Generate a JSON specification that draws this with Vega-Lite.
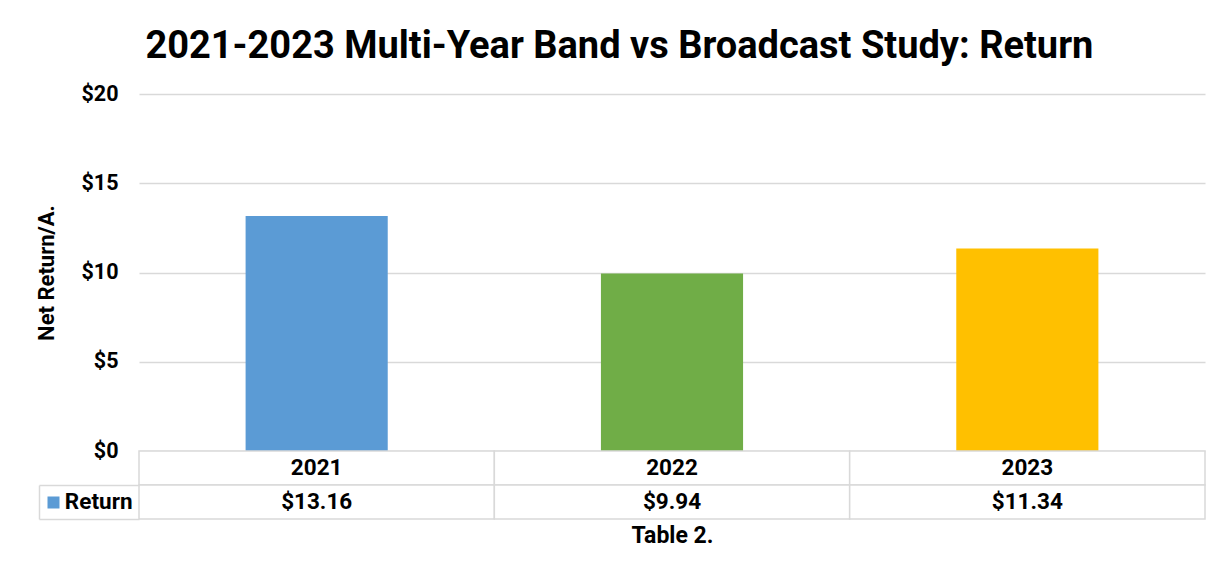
{
  "$schema": "https://vega.github.io/schema/vega-lite/v6.json",
  "background": "white",
  "padding": {"left": 33, "top": 28, "right": 18, "bottom": 10},
  "datasets": {
    "returns": [
      {"year": "2021", "ret": 13.16},
      {"year": "2022", "ret": 9.94},
      {"year": "2023", "ret": 11.34}
    ]
  },
  "data": {"name": "returns"},
  "title": {
    "text": "2021-2023 Multi-Year Band vs Broadcast Study: Return",
    "font": "Roboto",
    "fontSize": 38,
    "fontWeight": "bold",
    "color": "#000000",
    "anchor": "middle",
    "offset": 17
  },
  "bounds": "flush",
  "spacing": 0,
  "resolve": {"scale": {"x": "independent", "y": "independent", "color": "independent"}},
  "config": {"font": "Roboto", "view": {"stroke": null}},
  "vconcat": [
    {
      "width": 1066,
      "height": 357,
      "mark": {"type": "bar"},
      "encoding": {
        "x": {
          "field": "year",
          "type": "nominal",
          "scale": {"paddingInner": 0.6, "paddingOuter": 0.3},
          "axis": null
        },
        "y": {
          "field": "ret",
          "type": "quantitative",
          "scale": {"domain": [0, 20], "nice": false},
          "axis": {
            "values": [0, 5, 10, 15, 20],
            "format": "$.0f",
            "title": "Net Return/A.",
            "domain": false,
            "ticks": false,
            "labelPadding": 21,
            "labelFont": "Roboto",
            "labelFontSize": 21.5,
            "labelFontWeight": "bold",
            "labelColor": "#000000",
            "gridColor": "#d9d9d9",
            "gridWidth": 1.3,
            "titleFont": "Roboto",
            "titleFontSize": 22,
            "titleFontWeight": "bold",
            "titleColor": "#000000",
            "titlePadding": 22
          }
        },
        "color": {
          "field": "year",
          "type": "nominal",
          "scale": {"range": ["#5b9bd5", "#70ad47", "#ffc000"]},
          "legend": null
        }
      }
    },
    {
      "width": 1066,
      "height": 68,
      "encoding": {
        "x": {
          "field": "year",
          "type": "nominal",
          "scale": {"paddingInner": 0, "paddingOuter": 0},
          "axis": {
            "labels": false,
            "ticks": false,
            "domain": false,
            "title": "Table 2.",
            "titleFont": "Roboto",
            "titleFontSize": 23,
            "titleFontWeight": "bold",
            "titleColor": "#000000",
            "titlePadding": 5
          }
        }
      },
      "layer": [
        {
          "mark": {"type": "rect", "fill": "white", "stroke": "#d9d9d9", "strokeWidth": 1.5},
          "encoding": {
            "y": {
              "datum": "Year",
              "type": "nominal",
              "scale": {"domain": ["Year", "Return"], "paddingInner": 0, "paddingOuter": 0},
              "axis": {
                "orient": "left",
                "offset": 0,
                "domain": false,
                "labels": false,
                "grid": false,
                "ticks": true,
                "tickSize": 100,
                "bandPosition": 1,
                "tickColor": "#d9d9d9",
                "tickWidth": 1.5,
                "title": null
              }
            }
          }
        },
        {
          "mark": {"type": "rect", "fill": "white", "stroke": "#d9d9d9", "strokeWidth": 1.5},
          "encoding": {"y": {"datum": "Return", "type": "nominal", "axis": null}}
        },
        {
          "mark": {"type": "text", "font": "Roboto", "fontSize": 22.5, "fontWeight": "bold", "color": "#000000"},
          "encoding": {
            "y": {"datum": "Year", "type": "nominal", "axis": null},
            "text": {"field": "year", "type": "nominal"}
          }
        },
        {
          "mark": {"type": "text", "font": "Roboto", "fontSize": 22.5, "fontWeight": "bold", "color": "#000000"},
          "encoding": {
            "y": {
              "datum": "Return",
              "type": "nominal",
              "axis": {
                "orient": "left",
                "offset": 100,
                "domain": true,
                "domainColor": "#d9d9d9",
                "domainWidth": 1.5,
                "domainDash": [34, 34],
                "domainDashOffset": 34,
                "ticks": true,
                "tickSize": -20,
                "tickWidth": 12,
                "tickDash": [0, 8, 12, 100],
                "tickColor": {"condition": {"test": "datum.value === 'Return'", "value": "#5b9bd5"}, "value": "transparent"},
                "bandPosition": 0.5,
                "labels": true,
                "labelExpr": "datum.value === 'Return' ? 'Return' : ''",
                "labelPadding": -73,
                "labelFont": "Roboto",
                "labelFontSize": 22.5,
                "labelFontWeight": "bold",
                "labelColor": "#000000",
                "grid": false,
                "title": null
              }
            },
            "text": {"field": "ret", "type": "quantitative", "format": "$.2f"}
          }
        }
      ],
      "resolve": {"axis": {"y": "independent"}}
    }
  ]
}
